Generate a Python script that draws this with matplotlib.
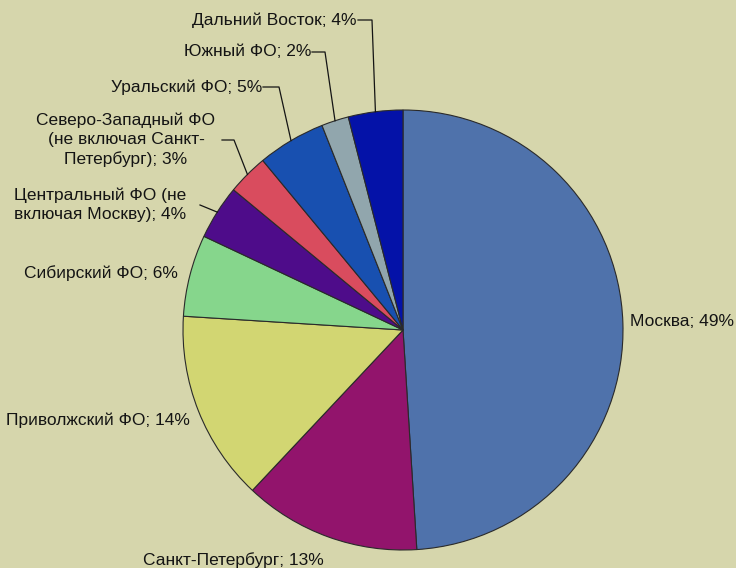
import numpy as np
import matplotlib.pyplot as plt

# Share of regions, percent
regions = ['Москва', 'Санкт-Петербург', 'Приволжский ФО', 'Сибирский ФО',
           'Центральный ФО (не\nвключая Москву)',
           'Северо-Западный ФО\n(не включая Санкт-\nПетербург)',
           'Уральский ФО', 'Южный ФО', 'Дальний Восток']
shares = [49, 13, 14, 6, 4, 3, 5, 2, 4]
colors = ['#4f72ab', '#92146c', '#d2d672', '#86d68c', '#4e0c8a',
          '#d94c5e', '#1850b0', '#91a6ad', '#0412a8']

# label placement in pixel coordinates (y measured upward), alignment, leader knee x
W, H = 736, 568
label_pos = [
    (630, H - 322, 'left', None),
    (233, H - 560, 'center', None),
    (190, H - 420, 'right', None),
    (178, H - 273, 'right', None),
    (100, H - 205, 'center', 200),
    (126, H - 140, 'center', 222),
    (262, H - 87, 'right', 263),
    (311, H - 52, 'right', 312),
    (357, H - 20, 'right', 358),
]
leader_len = [0, 0, 0, 0, 0, 12, 16, 13, 14]

bg = '#d6d6ac'
plt.rcParams['font.family'] = ['Liberation Sans', 'DejaVu Sans']

fig = plt.figure(figsize=(W / 100, H / 100), dpi=100, facecolor=bg)
ax = fig.add_axes([0, 0, 1, 1])
ax.set_facecolor(bg)

cx, cy, r = 403, H - 330, 220
wedges, _ = ax.pie(shares, colors=colors, startangle=90, counterclock=False,
                   center=(cx, cy), radius=r,
                   wedgeprops=dict(edgecolor='#2a2a2a', linewidth=0.8))

for w, name, val, (tx, ty, ha, knee), ll in zip(wedges, regions, shares,
                                               label_pos, leader_len):
    ax.text(tx, ty, f'{name}; {val}%', ha=ha, va='center', fontsize=12.5,
            color='#141414', multialignment='center', linespacing=1.33)
    if knee is not None:
        mid = np.deg2rad((w.theta1 + w.theta2) / 2)
        ex, ey = cx + r * np.cos(mid), cy + r * np.sin(mid)
        kx = knee + ll
        ax.plot([knee, kx, ex], [ty, ty, ey], color='#141414', linewidth=0.9)

ax.set_xlim(0, W)
ax.set_ylim(0, H)
ax.set_aspect('auto')
ax.axis('off')

fig.savefig('out.png', dpi=100, facecolor=bg)
